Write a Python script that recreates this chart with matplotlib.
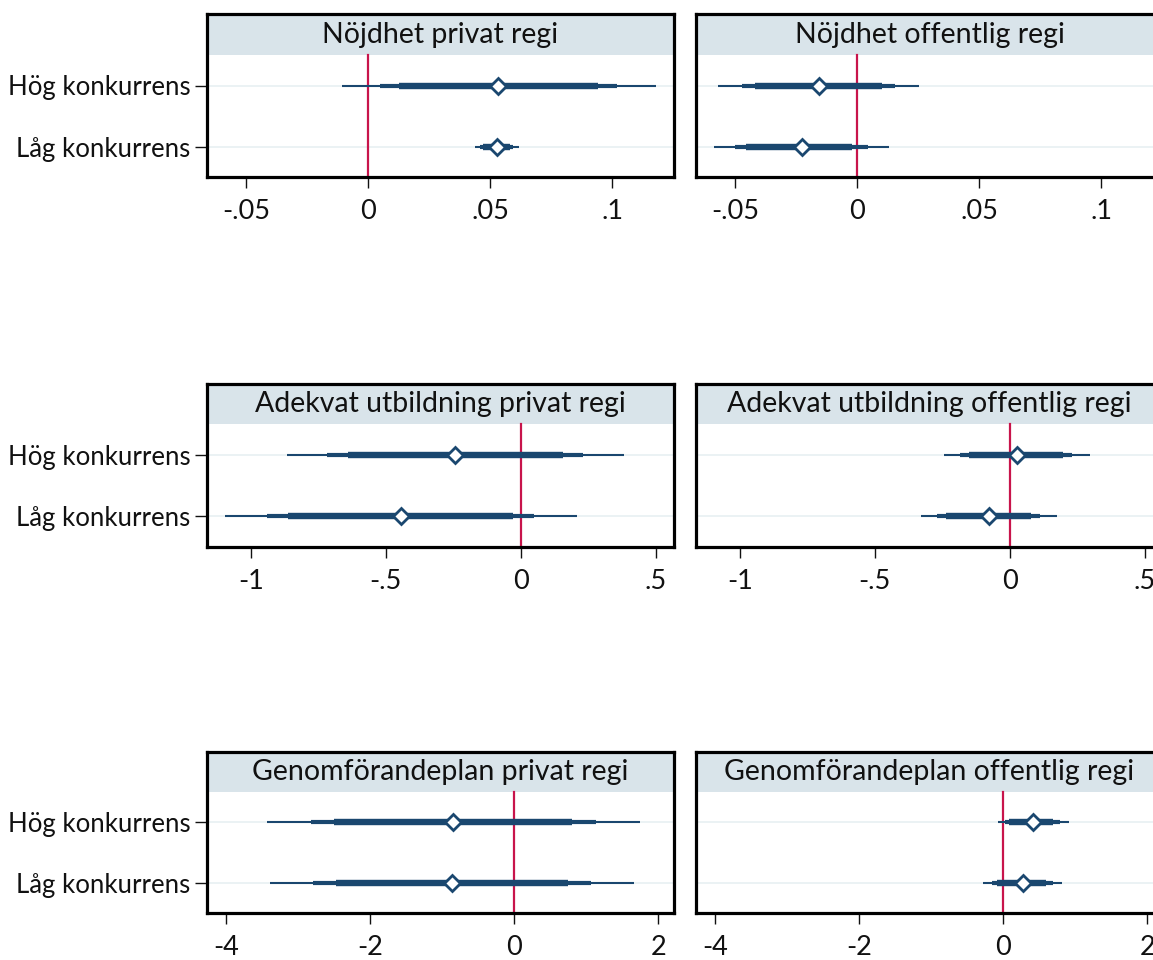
import matplotlib
matplotlib.use("Agg")
import matplotlib.pyplot as plt
import numpy as np

plt.rcParams['font.family'] = ['Lato', 'DejaVu Sans']

rows = ["Hög konkurrens", "Låg konkurrens"]
titles = ["Nöjdhet privat regi", "Nöjdhet offentlig regi",
          "Adekvat utbildning privat regi", "Adekvat utbildning offentlig regi",
          "Genomförandeplan privat regi", "Genomförandeplan offentlig regi"]

# point estimates [Hög, Låg]
est = [[0.0533, 0.0527], [-0.0157, -0.0228],
       [-0.242, -0.444], [0.027, -0.077],
       [-0.847, -0.870], [0.417, 0.269]]
# outer (thin) interval
ci_thin_lo = [[-0.0109, 0.0439], [-0.0570, -0.0589],
              [-0.864, -1.095], [-0.244, -0.330],
              [-3.44, -3.39], [-0.069, -0.278]]
ci_thin_hi = [[0.1178, 0.0616], [0.0253, 0.0130],
              [0.383, 0.207], [0.296, 0.175],
              [1.746, 1.667], [0.908, 0.820]]
# middle interval
ci_mid_lo = [[0.0048, 0.0458], [-0.0471, -0.0503],
             [-0.716, -0.941], [-0.183, -0.269],
             [-2.82, -2.79], [0.023, -0.160]]
ci_mid_hi = [[0.1018, 0.0594], [0.0153, 0.0044],
             [0.232, 0.050], [0.232, 0.114],
             [1.13, 1.06], [0.79, 0.69]]
# inner (thick) interval
ci_thick_lo = [[0.0127, 0.0471], [-0.0420, -0.0457],
               [-0.638, -0.861], [-0.151, -0.235],
               [-2.50, -2.48], [0.083, -0.090]]
ci_thick_hi = [[0.0943, 0.0581], [0.0103, -0.0020],
               [0.158, -0.027], [0.198, 0.080],
               [0.806, 0.750], [0.690, 0.600]]

row_ticks = [[-0.05, 0, 0.05, 0.1], [-1, -0.5, 0, 0.5], [-4, -2, 0, 2]]
row_ticklabels = [["-.05", "0", ".05", ".1"], ["-1", "-.5", "0", ".5"], ["-4", "-2", "0", "2"]]
row_xlim = [(-0.0661, 0.1253), (-1.162, 0.568), (-4.27, 2.22)]

W, H = 1153, 960
fig = plt.figure(figsize=(W / 100, H / 100), dpi=100)
fig.patch.set_facecolor("white")

NAVY = "#1a476f"
RED = "#c8144b"
STRIP = "#d9e4ea"
GRID = "#e8f0f2"

col_x = [207, 696]
pan_w = 467
row_y = [(14, 177), (384, 547), (752, 913)]
strip_h = [41, 40, 40]

for r in range(3):
    top, bot = row_y[r]
    ph = bot - top
    plot_h = ph - strip_h[r]
    unit = plot_h / 2.0
    ytop = 0.5 - strip_h[r] / unit
    for c in range(2):
        i = r * 2 + c
        ax = fig.add_axes([col_x[c] / W, 1 - bot / H, pan_w / W, ph / H])
        ax.set_xlim(*row_xlim[r])
        ax.set_ylim(2.5, ytop)
        ax.axhspan(ytop, 0.5, color=STRIP, lw=0, zorder=0)
        ypos = np.arange(1, len(rows) + 1)
        for k, y in enumerate(ypos):
            ax.plot(row_xlim[r], [y, y], color=GRID, lw=1.2, zorder=1)
        ax.plot([0, 0], [0.5, 2.5], color=RED, lw=1.6, zorder=2)
        for k, y in enumerate(ypos):
            ax.plot([ci_thin_lo[i][k], ci_thin_hi[i][k]], [y, y], color=NAVY, lw=1.5,
                    solid_capstyle='butt', zorder=3)
            ax.plot([ci_mid_lo[i][k], ci_mid_hi[i][k]], [y, y], color=NAVY, lw=3.0,
                    solid_capstyle='butt', zorder=3)
            ax.plot([ci_thick_lo[i][k], ci_thick_hi[i][k]], [y, y], color=NAVY, lw=4.6,
                    solid_capstyle='butt', zorder=3)
            ax.plot(est[i][k], y, marker='D', ms=8.5, mfc='white', mec=NAVY, mew=2.0,
                    zorder=4, ls='none')
        ax.text(0.5, (ytop + 0.5) / 2, titles[i], transform=ax.get_yaxis_transform(),
                ha='center', va='center', fontsize=20.5, color='#111111')
        for sp in ax.spines.values():
            sp.set_linewidth(2.3)
            sp.set_color("black")
        ax.set_xticks(row_ticks[r])
        ax.set_xticklabels(row_ticklabels[r], fontsize=19.5)
        ax.tick_params(axis='x', length=8, width=1.0, pad=8, colors='#111111')
        if c == 0:
            ax.set_yticks(ypos)
            ax.set_yticklabels(rows, fontsize=18.5)
            ax.tick_params(axis='y', length=9, width=1.0, pad=3, colors='#111111')
        else:
            ax.set_yticks([])

fig.savefig("out.png", dpi=100, facecolor="white")
